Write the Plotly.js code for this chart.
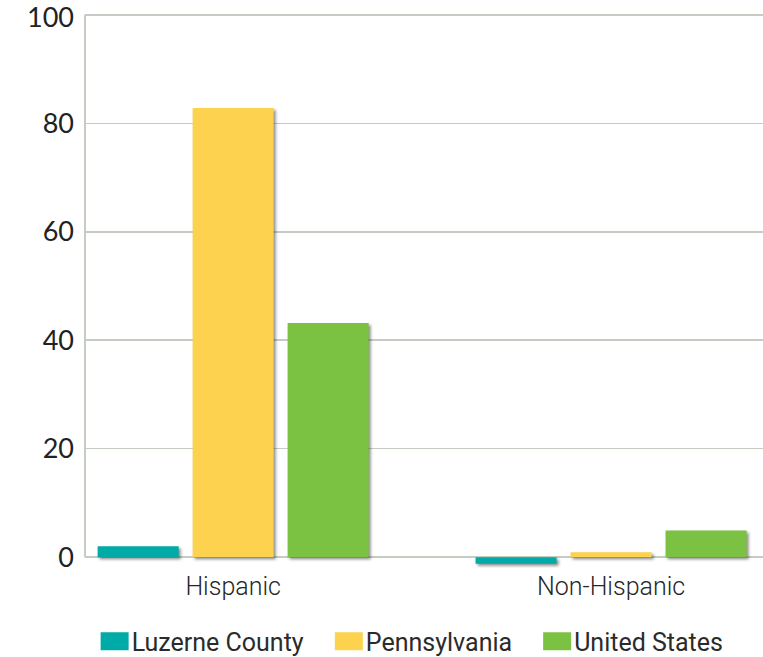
<!DOCTYPE html>
<html>
<head>
<meta charset="utf-8">
<script src="https://cdn.plot.ly/plotly-3.0.1.min.js"></script>
<style>
html,body{margin:0;padding:0;background:#fff;}
#chart{width:763px;height:657px;}
.barlayer .point path{filter:drop-shadow(2px 2px 1.5px rgba(0,0,0,0.45));}
</style>
</head>
<body>
<div id="chart"></div>
<script>
var categories = ["Hispanic", "Non-Hispanic"];
var seriesNames = ["Luzerne County", "Pennsylvania", "United States"];
var luzerne = [2.0, -1.2];
var pennsylvania = [82.8, 0.9];
var unitedStates = [43.2, 4.9];
var yTickVals = [0, 20, 40, 60, 80, 100];
var yTickText = ["0", "20", "40", "60", "80", "100"];

var colors = ["#00aba7", "#fdd24f", "#7cc242"];
var values = [luzerne, pennsylvania, unitedStates];

var traces = seriesNames.map(function(name, i){
  return {
    type: "bar",
    name: name,
    x: categories,
    y: values[i],
    marker: {color: colors[i], line: {width: 0}},
    hoverinfo: "none"
  };
});

var gridColor = "#c5cdc3";
var yMin = -2, yMax = 102;
// pixel mapping: 0 at 556.7, 100 at 15 -> 5.417 px/unit
var pxPerUnit = 5.417;
var topPx = 15 - (yMax - 100) * pxPerUnit;
var bottomPx = 556.7 + (0 - yMin) * pxPerUnit;

var layout = {
  width: 763,
  height: 657,
  margin: {l: 85, r: 0, t: topPx, b: 657 - bottomPx, pad: 0, autoexpand: false},
  paper_bgcolor: "#ffffff",
  plot_bgcolor: "#ffffff",
  barmode: "group",
  bargap: 0.246,
  bargroupgap: 0.147,
  showlegend: true,
  legend: {
    orientation: "h",
    x: 0.467,
    xanchor: "center",
    y: -((641 - bottomPx) / (bottomPx - topPx)),
    yanchor: "middle",
    font: {family: "Roboto", size: 25, color: "#2b2b2b", weight: 400},
    itemwidth: 47,
    tracegroupgap: 0,
    traceorder: "normal"
  },
  xaxis: {
    type: "category",
    range: [-0.392, 1.402],
    showgrid: false,
    showline: false,
    zeroline: false,
    ticks: "",
    tickfont: {family: "Roboto", size: 25, color: "#262626", weight: 300},
    ticklabelstandoff: 1,
    fixedrange: true
  },
  yaxis: {
    range: [yMin, yMax],
    tickvals: yTickVals,
    ticktext: yTickText,
    showgrid: true,
    gridcolor: gridColor,
    gridwidth: 1.5,
    showline: false,
    zeroline: true,
    zerolinecolor: gridColor,
    zerolinewidth: 2,
    ticks: "",
    tickfont: {family: "Lato", size: 27, color: "#222222", weight: 400},
    ticklabelstandoff: 10,
    ticklabeloverflow: "allow",
    fixedrange: true
  },
  shapes: [{
    type: "line", xref: "paper", yref: "y",
    x0: 0, x1: 0, y0: 0, y1: 100,
    line: {color: gridColor, width: 2},
    layer: "below"
  }]
};

Plotly.newPlot("chart", traces, layout, {displayModeBar: false, staticPlot: true}).then(function(){
  document.querySelectorAll(".legend .traces").forEach(function(g){
    var txt = g.querySelector("text.legendtext");
    var path = g.querySelector(".legendpoints path");
    if (!txt || !path) return;
    path.setAttribute("d", "M-14,9H14V-9H-14Z");
    var pr = path.getBoundingClientRect();
    var tr = txt.getBoundingClientRect();
    var shift = (tr.left - 3) - pr.right;
    var left = -14 + shift, right = 14 + shift;
    path.setAttribute("d", "M" + left + ",9H" + right + "V-9H" + left + "Z");
  });
  document.querySelectorAll(".ytick text").forEach(function(t){
    if (t.textContent === "100") {
      var tf = t.getAttribute("transform") || "";
      t.setAttribute("transform", (tf + " translate(0,3)").trim());
    }
  });
});
</script>
</body>
</html>
